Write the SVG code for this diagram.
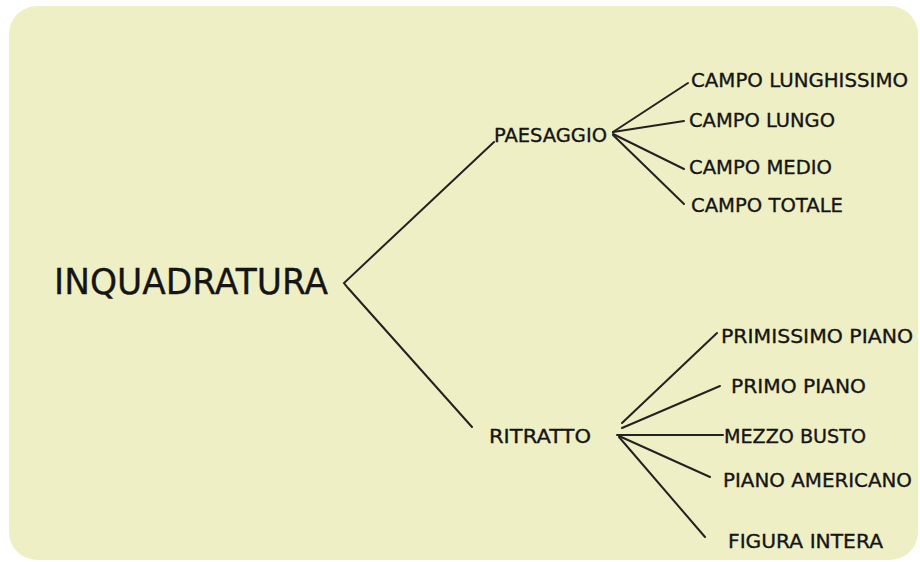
<svg xmlns="http://www.w3.org/2000/svg" width="920" height="562" viewBox="0 0 920 562">
<style>
.t{font-family:"DejaVu Sans",Verdana,sans-serif;fill:#151515;stroke:#151515;stroke-width:0.35}
.s{font-size:19.4px}
.l{stroke:#222;stroke-width:2;fill:none;stroke-linecap:round}
</style>
<rect x="0" y="0" width="920" height="562" fill="#ffffff"/>
<rect id="bg" x="9" y="6" width="909" height="554" rx="28" ry="28" fill="#EFEFC5"/>
<g id="connectors">
<polyline class="l" points="494,142 344,283 348,288 472,427"/>
<line class="l" x1="613" y1="132" x2="688" y2="83"/>
<line class="l" x1="613" y1="132" x2="684" y2="121"/>
<line class="l" x1="613" y1="134" x2="684" y2="169"/>
<line class="l" x1="613" y1="135" x2="684" y2="204"/>
<line class="l" x1="622" y1="423" x2="717" y2="333"/>
<line class="l" x1="622" y1="428" x2="720" y2="386"/>
<line class="l" x1="617" y1="435" x2="723" y2="435"/>
<line class="l" x1="619" y1="436" x2="710" y2="477"/>
<line class="l" x1="619" y1="437" x2="705" y2="537"/>
</g>
<g id="inquadratura"><text class="t" x="54" y="294" font-size="36" textLength="274" lengthAdjust="spacingAndGlyphs">INQUADRATURA</text></g>
<g id="paesaggio"><text class="t s" x="494" y="142" textLength="113" lengthAdjust="spacingAndGlyphs">PAESAGGIO</text></g>
<g id="campo-lunghissimo"><text class="t s" x="691" y="87" textLength="217" lengthAdjust="spacingAndGlyphs">CAMPO LUNGHISSIMO</text></g>
<g id="campo-lungo"><text class="t s" x="689" y="127" textLength="146" lengthAdjust="spacingAndGlyphs">CAMPO LUNGO</text></g>
<g id="campo-medio"><text class="t s" x="689" y="174" textLength="143" lengthAdjust="spacingAndGlyphs">CAMPO MEDIO</text></g>
<g id="campo-totale"><text class="t s" x="691" y="212" textLength="152" lengthAdjust="spacingAndGlyphs">CAMPO TOTALE</text></g>
<g id="ritratto"><text class="t s" x="489" y="443" textLength="102" lengthAdjust="spacingAndGlyphs">RITRATTO</text></g>
<g id="primissimo-piano"><text class="t s" x="721" y="343" textLength="192" lengthAdjust="spacingAndGlyphs">PRIMISSIMO PIANO</text></g>
<g id="primo-piano"><text class="t s" x="731" y="393" textLength="135" lengthAdjust="spacingAndGlyphs">PRIMO PIANO</text></g>
<g id="mezzo-busto"><text class="t s" x="724" y="443" textLength="142" lengthAdjust="spacingAndGlyphs">MEZZO BUSTO</text></g>
<g id="piano-americano"><text class="t s" x="723" y="487" textLength="189" lengthAdjust="spacingAndGlyphs">PIANO AMERICANO</text></g>
<g id="figura-intera"><text class="t s" x="728" y="548" textLength="155" lengthAdjust="spacingAndGlyphs">FIGURA INTERA</text></g>
</svg>
